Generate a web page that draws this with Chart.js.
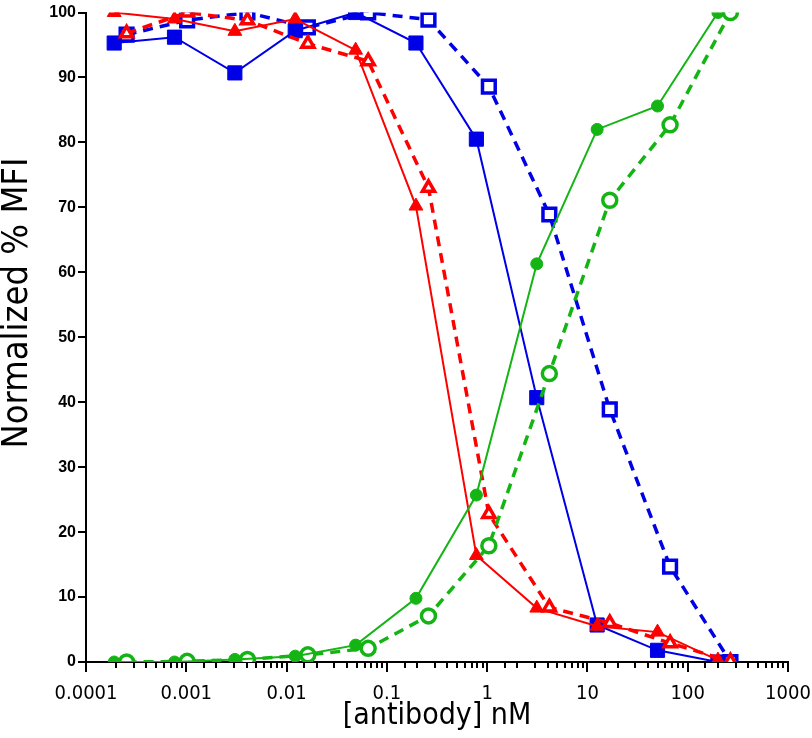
<!DOCTYPE html>
<html>
<head>
<meta charset="utf-8">
<script src="https://cdn.jsdelivr.net/npm/chart.js@4/dist/chart.umd.min.js"></script>
<style>
  html, body { margin: 0; padding: 0; background: #fff; }
  #wrap { width: 812px; height: 738px; position: relative; }
</style>
</head>
<body>
<div id="wrap"><canvas id="mfiChart"></canvas></div>
<script>
// 4-fold dilution series (nM)
const concSolid = [0.000191, 0.000763, 0.00305, 0.0122, 0.0488, 0.195, 0.781, 3.125, 12.5, 50, 200];
const concDashed = [0.000254, 0.00102, 0.00407, 0.0163, 0.0651, 0.26, 1.04, 4.17, 16.7, 66.7, 266.7];

const redSolid   = [100, 99, 97.1, 99, 94.2, 70.2, 16.4, 8.3, 5.5, 4.6, 0.3];
const redDashed  = [96.8, 100, 98.8, 95.2, 92.5, 73, 22.8, 8.4, 6.0, 2.9, 0.1];
const blueSolid  = [95.3, 96.2, 90.7, 97.2, 100, 95.3, 80.5, 40.7, 5.7, 1.8, 0];
const blueDashed = [96.6, 98.8, 100, 97.7, 100, 98.9, 88.6, 68.9, 38.9, 14.7, 0];
const greenSolid  = [0, 0, 0.4, 0.9, 2.6, 9.8, 25.7, 61.3, 82.0, 85.6, 100];
const greenDashed = [0, 0.1, 0.4, 1.1, 2.1, 7.1, 17.9, 44.4, 71.1, 82.7, 100];

const xTickLabels = [0.0001, 0.001, 0.01, 0.1, 1, 10, 100, 1000];
const yTickLabels = [0, 10, 20, 30, 40, 50, 60, 70, 80, 90, 100];
const yTitle = "Normalized % MFI";

const RED = "rgb(255,0,0)";
const BLUE = "rgb(0,0,230)";
const GREEN = "rgb(20,180,20)";
const NARROW = "'DejaVu Sans Condensed', 'Liberation Sans', Arial";

function pts(xs, ys) {
    return xs.map((x, i) => ({ x: x, y: ys[i] }));
}

function solid(data, color, shape, r) {
    return {
        data: data, borderColor: color, backgroundColor: color,
        borderWidth: 2, pointStyle: shape, pointRadius: r,
        pointBorderWidth: 1, pointBackgroundColor: color, tension: 0
    };
}

function dashed(data, color, shape, r) {
    return {
        data: data, borderColor: color, backgroundColor: "#fff",
        borderWidth: 3.5, borderDash: [10, 7], pointStyle: shape, pointRadius: r,
        pointBorderWidth: 3.5, pointBackgroundColor: "#fff", tension: 0
    };
}

// major / minor tick marks on the log axis, plus the y axis title
const axisExtras = {
    id: "axisExtras",
    afterDraw(chart) {
        const xs = chart.scales.x;
        const c = chart.ctx;
        c.save();
        c.strokeStyle = "#000";
        c.lineWidth = 2;
        xs.ticks.forEach(t => {
            const px = Math.round(xs.getPixelForValue(t.value));
            const major = xTickLabels.includes(t.value);
            c.beginPath();
            c.moveTo(px, xs.top);
            c.lineTo(px, xs.top + (major ? 10 : 6));
            c.stroke();
        });
        // y title, sits a little above the plot centre like the original
        c.translate(18, 303);
        c.rotate(-Math.PI / 2);
        c.fillStyle = "#000";
        c.font = "36px " + NARROW;
        c.textAlign = "center";
        c.textBaseline = "middle";
        c.fillText(yTitle, 0, 0);
        c.restore();
    }
};

let ctx = document.getElementById("mfiChart").getContext("2d");

new Chart(ctx, {
    type: "line",
    data: {
        datasets: [
            solid(pts(concSolid, greenSolid), GREEN, "circle", 6),
            dashed(pts(concDashed, greenDashed), GREEN, "circle", 7),
            solid(pts(concSolid, redSolid), RED, "triangle", 8),
            dashed(pts(concDashed, redDashed), RED, "triangle", 7),
            solid(pts(concSolid, blueSolid), BLUE, "rect", 10),
            dashed(pts(concDashed, blueDashed), BLUE, "rect", 9)
        ]
    },
    options: {
        responsive: true,
        maintainAspectRatio: false,
        animation: false,
        layout: { padding: { top: 9, right: 24, left: 0, bottom: 0 } },
        plugins: {
            legend: { display: false },
            tooltip: { enabled: false }
        },
        scales: {
            x: {
                type: "logarithmic",
                min: 0.0001,
                max: 1000,
                afterFit(scale) {
                    scale.height = 76;
                    scale.paddingLeft = 0;
                    scale.paddingRight = 0;
                },
                border: { display: true, color: "#000", width: 2 },
                grid: { display: false },
                ticks: {
                    autoSkip: false,
                    maxRotation: 0,
                    padding: 12,
                    color: "#000",
                    font: { family: NARROW, size: 20 },
                    callback: (v) => xTickLabels.includes(v) ? String(v) : ""
                },
                title: {
                    display: true,
                    text: "[antibody] nM",
                    color: "#000",
                    padding: { top: 0 },
                    font: { family: NARROW, size: 30 }
                }
            },
            y: {
                min: 0,
                max: 100,
                afterFit(scale) { scale.width = 86; },
                border: { display: true, color: "#000", width: 2 },
                grid: { drawOnChartArea: false, color: "#000", lineWidth: 2, tickLength: 8 },
                ticks: {
                    stepSize: 10,
                    padding: 2,
                    color: "#000",
                    font: { family: "'Liberation Sans', Arial", size: 16, weight: "bold" }
                }
            }
        }
    },
    plugins: [axisExtras]
});
</script>
</body>
</html>
